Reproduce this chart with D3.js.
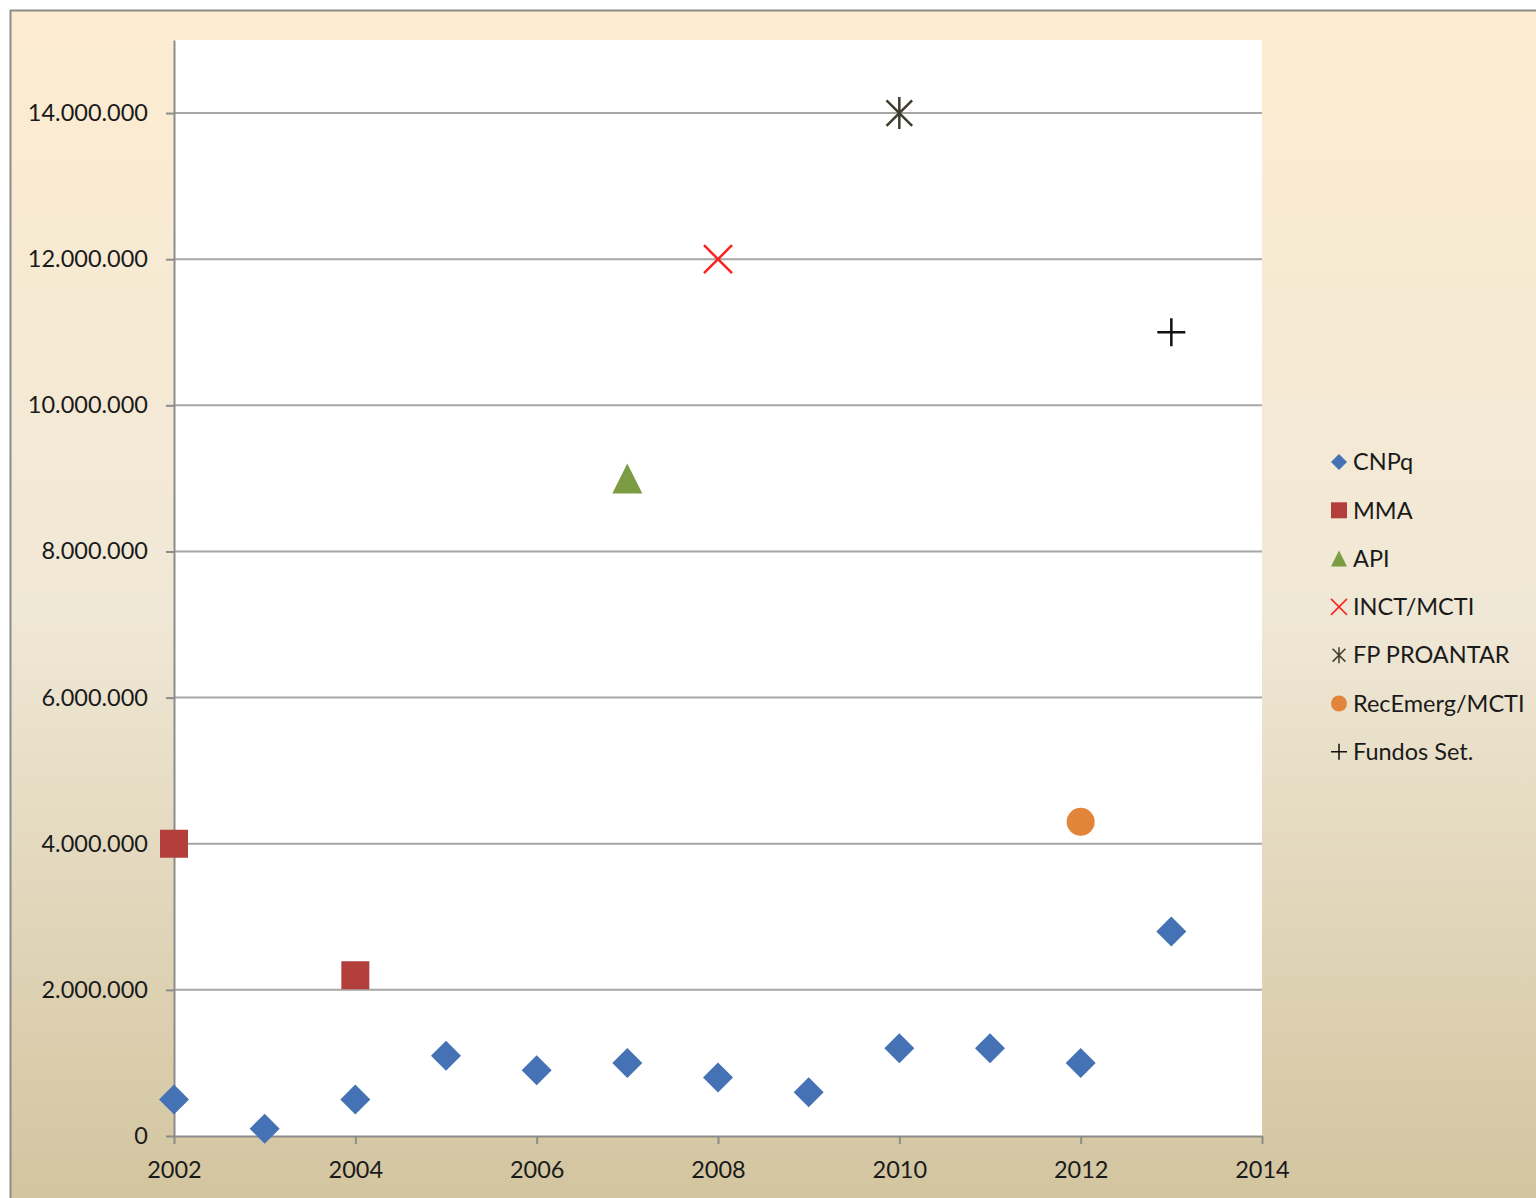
<!DOCTYPE html>
<html>
<head>
<meta charset="utf-8">
<script src="https://cdn.jsdelivr.net/npm/d3@7"></script>
<style>
  html, body { margin: 0; padding: 0; overflow: hidden; }
  text { font-family: Lato, "Open Sans", sans-serif; fill: #1a1a1a; }
</style>
</head>
<body>
<svg id="chart" width="1536" height="1198"></svg>
<script>
// values
var seriesNames = ['CNPq', 'MMA', 'API', 'INCT/MCTI', 'FP PROANTAR', 'RecEmerg/MCTI', 'Fundos Set.'];
var cnpqYears = [2002, 2003, 2004, 2005, 2006, 2007, 2008, 2009, 2010, 2011, 2012, 2013];
var cnpqValues = [500000, 100000, 500000, 1100000, 900000, 1000000, 800000, 600000, 1200000, 1200000, 1000000, 2800000];
var mmaYears = [2002, 2004];
var mmaValues = [4000000, 2200000];
var apiYears = [2007];
var apiValues = [9000000];
var inctYears = [2008];
var inctValues = [12000000];
var proantarYears = [2010];
var proantarValues = [14000000];
var recEmergYears = [2012];
var recEmergValues = [4300000];
var fundosYears = [2013];
var fundosValues = [11000000];
var xTicks = [2002, 2004, 2006, 2008, 2010, 2012, 2014];
var yTicks = [0, 2000000, 4000000, 6000000, 8000000, 10000000, 12000000, 14000000];

var margin = { top: 40, right: 274, bottom: 62, left: 174 };
var width = 1536 - margin.left - margin.right;
var height = 1198 - margin.top - margin.bottom;

var svg = d3.select('#chart');

var defs = svg.append('defs');
var grad = defs.append('linearGradient')
    .attr('id', 'bg').attr('x1', 0).attr('y1', 0).attr('x2', 0).attr('y2', 1);
grad.append('stop').attr('offset', '0%').attr('stop-color', '#fdecd1');
grad.append('stop').attr('offset', '50%').attr('stop-color', '#f0e8d6');
grad.append('stop').attr('offset', '100%').attr('stop-color', '#d2c49e');

svg.append('rect')
    .attr('x', 0).attr('y', 0).attr('width', 1536).attr('height', 1198)
    .attr('fill', '#ffffff');
svg.append('rect')
    .attr('x', 10.5).attr('y', 10.5).attr('width', 1540).attr('height', 1200)
    .attr('fill', 'url(#bg)')
    .attr('stroke', '#8c8c8c').attr('stroke-width', 2);

var g = svg.append('g')
    .attr('transform', 'translate(' + margin.left + ',' + margin.top + ')');

g.append('rect')
    .attr('width', width).attr('height', height)
    .attr('fill', '#ffffff');

var x = d3.scaleLinear().domain([2002, 2014]).range([0, width]);
var y = d3.scaleLinear().domain([0, 15000000]).range([height, 0]);

var ptBR = d3.formatLocale({ decimal: ',', thousands: '.', grouping: [3], currency: ['R$', ''] });
var fmt = ptBR.format(',d');

// gridlines
g.append('g')
    .selectAll('line')
    .data(yTicks.filter(function (d) { return d > 0; }))
    .enter().append('line')
    .attr('x1', 0).attr('x2', width)
    .attr('y1', function (d) { return y(d); })
    .attr('y2', function (d) { return y(d); })
    .attr('stroke', '#a6a6a6').attr('stroke-width', 2);

var yAxis = g.append('g')
    .attr('class', 'axis axis--y')
    .call(d3.axisLeft(y).tickValues(yTicks).tickFormat(fmt).tickSizeInner(8).tickSizeOuter(0).tickPadding(18));
var xAxis = g.append('g')
    .attr('class', 'axis axis--x')
    .attr('transform', 'translate(0,' + height + ')')
    .call(d3.axisBottom(x).tickValues(xTicks).tickFormat(d3.format('d')).tickSizeInner(8).tickSizeOuter(0).tickPadding(17));

[xAxis, yAxis].forEach(function (a) {
    a.select('.domain').attr('stroke', '#8c8c8c').attr('stroke-width', 2);
    a.selectAll('.tick line').attr('stroke', '#8c8c8c').attr('stroke-width', 2);
    a.selectAll('.tick text')
        .attr('font-family', 'Lato, "Open Sans", sans-serif')
        .attr('font-size', 23.5).attr('fill', '#1a1a1a');
});

// marker drawers
function diamond(sel, s) {
    sel.append('path').attr('d', 'M0,' + (-s) + 'L' + s + ',0L0,' + s + 'L' + (-s) + ',0Z')
        .attr('fill', '#4472b4');
}
function square(sel, s) {
    sel.append('rect').attr('x', -s).attr('y', -s).attr('width', 2 * s).attr('height', 2 * s)
        .attr('fill', '#b23f3c');
}
function triangle(sel, s) {
    sel.append('path').attr('d', 'M0,' + (-s) + 'L' + s + ',' + s + 'L' + (-s) + ',' + s + 'Z')
        .attr('fill', '#7b9c43');
}
function cross(sel, s) {
    sel.append('path').attr('d', 'M' + (-s) + ',' + (-s) + 'L' + s + ',' + s + 'M' + s + ',' + (-s) + 'L' + (-s) + ',' + s)
        .attr('stroke', '#ff2020').attr('stroke-width', s > 10 ? 2.5 : 1.5).attr('fill', 'none');
}
function star(sel, s) {
    var k = s * 0.8;
    sel.append('path').attr('d', 'M0,' + (-s) + 'L0,' + s + 'M' + (-k) + ',' + (-k) + 'L' + k + ',' + k + 'M' + k + ',' + (-k) + 'L' + (-k) + ',' + k)
        .attr('stroke', '#3f3d2c').attr('stroke-width', s > 10 ? 2.5 : 1.5).attr('fill', 'none');
}
function circle(sel, s) {
    sel.append('circle').attr('r', s).attr('fill', '#e0853a');
}
function plus(sel, s) {
    sel.append('path').attr('d', 'M' + (-s) + ',0L' + s + ',0M0,' + (-s) + 'L0,' + s)
        .attr('stroke', '#111111').attr('stroke-width', s > 10 ? 2.5 : 1.5).attr('fill', 'none');
}

var series = [
    { name: seriesNames[0], years: cnpqYears, values: cnpqValues, draw: diamond, size: 15 },
    { name: seriesNames[1], years: mmaYears, values: mmaValues, draw: square, size: 14 },
    { name: seriesNames[2], years: apiYears, values: apiValues, draw: triangle, size: 15 },
    { name: seriesNames[3], years: inctYears, values: inctValues, draw: cross, size: 14 },
    { name: seriesNames[4], years: proantarYears, values: proantarValues, draw: star, size: 16 },
    { name: seriesNames[5], years: recEmergYears, values: recEmergValues, draw: circle, size: 14 },
    { name: seriesNames[6], years: fundosYears, values: fundosValues, draw: plus, size: 14 }
];

series.forEach(function (s) {
    s.years.forEach(function (yr, i) {
        var m = g.append('g')
            .attr('transform', 'translate(' + x(yr) + ',' + y(s.values[i]) + ')');
        s.draw(m, s.size);
    });
});

// legend
var legend = svg.append('g').attr('transform', 'translate(1339,462)');
series.forEach(function (s, i) {
    var row = legend.append('g').attr('transform', 'translate(0,' + (i * 48.3) + ')');
    s.draw(row.append('g'), 8);
    row.append('text')
        .attr('x', 14).attr('y', 0).attr('dy', '0.35em')
        .attr('font-size', 23.5)
        .text(s.name);
});
</script>
</body>
</html>
